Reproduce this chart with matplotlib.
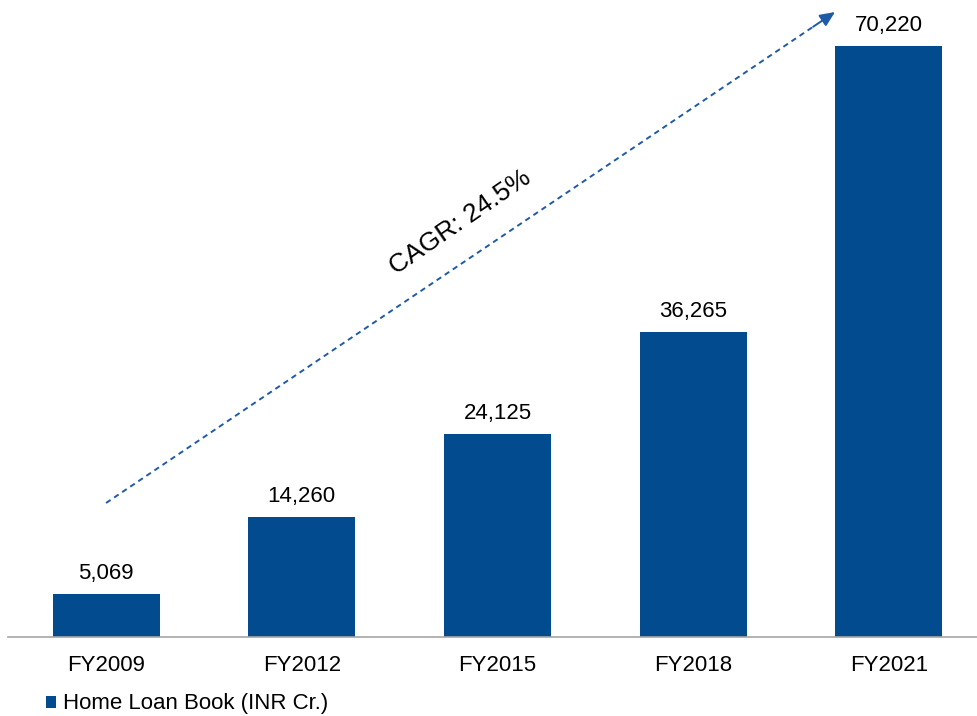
import matplotlib
matplotlib.use("Agg")
import matplotlib.pyplot as plt
from matplotlib.patches import Patch

categories = ["FY2009", "FY2012", "FY2015", "FY2018", "FY2021"]
values = [5069, 14260, 24125, 36265, 70220]
series_name = "Home Loan Book (INR Cr.)"
cagr_label = "CAGR: 24.5%"

bar_color = "#024B8E"
arrow_color = "#1F5AA6"
plt.rcParams['font.family'] = ['Liberation Sans', 'DejaVu Sans']

fig = plt.figure(figsize=(9.78, 7.16), dpi=100)
ax = fig.add_axes([8.2/978, (716-637)/716, 978.5/978, 637/716])
x = list(range(len(categories)))
ax.bar(x, values, width=0.547, color=bar_color, zorder=2)
ax.set_xlim(-0.5, 4.5)
ax.set_ylim(0, 75690)

for xi, v in zip(x, values):
    ax.text(xi, v + 1200, f"{v:,}", ha="center", va="bottom", fontsize=16, color="black")

ax.set_xticks(x)
ax.set_xticklabels(categories, fontsize=16)
ax.tick_params(axis="x", length=0, pad=13)
ax.set_yticks([])
for s in ["top", "right", "left"]:
    ax.spines[s].set_visible(False)
ax.spines["bottom"].set_color("#A6A6A6")
ax.spines["bottom"].set_linewidth(1.2)

# CAGR arrow: dashed shaft + solid head
x0, y0 = 0.0, 15922
x1, y1 = 3.725, 74263
t = 0.97
xm, ym = x0 + (x1 - x0) * t, y0 + (y1 - y0) * t
ax.plot([x0, xm], [y0, ym], color=arrow_color, lw=1.4,
        linestyle=(0, (2.8, 2.2)), solid_capstyle="butt")
ax.annotate("", xy=(x1, y1), xytext=(xm, ym),
            arrowprops=dict(arrowstyle="-|>,head_length=0.9,head_width=0.4",
                            color=arrow_color, lw=1.4, shrinkA=0, shrinkB=0))
ax.text(1.81, 49310, cagr_label, rotation=34.5, rotation_mode="anchor",
        ha="center", va="center", fontsize=19, color="black")

leg = fig.legend(handles=[Patch(facecolor=bar_color, edgecolor="none")],
                 labels=[series_name], loc="center left",
                 bbox_to_anchor=(37/978, 1 - 704/716), frameon=False,
                 fontsize=16, handlelength=0.45, handleheight=0.45,
                 handletextpad=0.3, borderaxespad=0)

fig.savefig("out.png", dpi=100)
